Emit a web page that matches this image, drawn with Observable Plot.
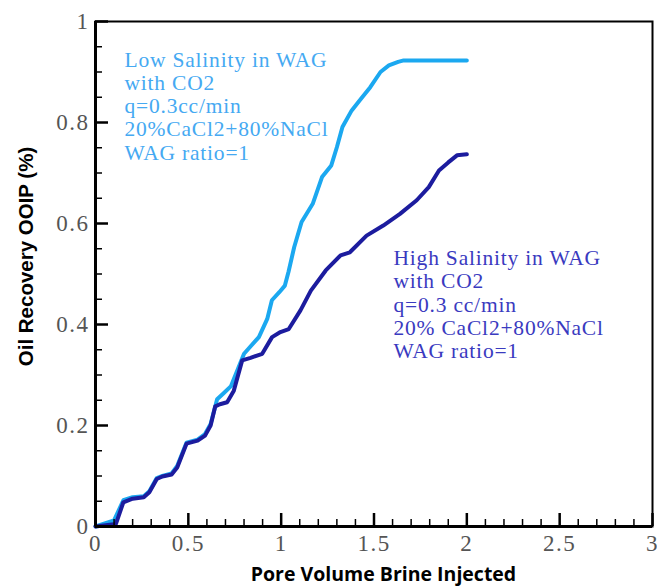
<!DOCTYPE html>
<html><head><meta charset="utf-8">
<script src="https://cdn.jsdelivr.net/npm/d3@7"></script>
<script src="https://cdn.jsdelivr.net/npm/@observablehq/plot@0.6"></script>
<style>
body{margin:0;background:#fff}
svg{display:block}
g[aria-label="x-axis tick label"] text, g[aria-label="y-axis tick label"] text{letter-spacing:1.5px}
g.anno text{letter-spacing:0.8px}
</style>
</head><body><div id="chart"></div>
<script>
// Low salinity in WAG (light blue)
const lowX = [0, 0.1, 0.15, 0.2, 0.26, 0.29, 0.33, 0.36, 0.41, 0.44, 0.49, 0.55, 0.59, 0.62, 0.655, 0.69, 0.73, 0.8, 0.88, 0.925, 0.95, 0.99, 1.02, 1.04, 1.07, 1.11, 1.17, 1.22, 1.27, 1.3, 1.33, 1.38, 1.43, 1.48, 1.535, 1.58, 1.63, 1.66, 2.0];
const lowY = [0, 0.012, 0.052, 0.058, 0.06, 0.07, 0.096, 0.1, 0.105, 0.12, 0.166, 0.172, 0.183, 0.203, 0.252, 0.264, 0.278, 0.342, 0.375, 0.411, 0.448, 0.464, 0.477, 0.505, 0.553, 0.603, 0.639, 0.692, 0.715, 0.751, 0.791, 0.824, 0.847, 0.870, 0.9, 0.913, 0.92, 0.923, 0.923];
// High salinity in WAG (navy)
const highX = [0, 0.11, 0.15, 0.2, 0.26, 0.29, 0.33, 0.36, 0.41, 0.44, 0.49, 0.55, 0.59, 0.62, 0.645, 0.67, 0.709, 0.745, 0.79, 0.835, 0.898, 0.951, 0.996, 1.041, 1.104, 1.16, 1.24, 1.32, 1.37, 1.46, 1.55, 1.64, 1.73, 1.795, 1.85, 1.9, 1.947, 2.0];
const highY = [0, 0.005, 0.048, 0.055, 0.058, 0.068, 0.094, 0.099, 0.103, 0.117, 0.164, 0.170, 0.180, 0.2, 0.238, 0.242, 0.246, 0.269, 0.329, 0.334, 0.342, 0.375, 0.385, 0.391, 0.428, 0.467, 0.507, 0.537, 0.543, 0.576, 0.596, 0.619, 0.646, 0.672, 0.705, 0.721, 0.735, 0.737];

const xTicks = [0, 0.5, 1, 1.5, 2, 2.5, 3];
const xTickLabels = ["0", "0.5", "1", "1.5", "2", "2.5", "3"];
const xMinorTicks = [0.1, 0.2, 0.3, 0.4, 0.6, 0.7, 0.8, 0.9, 1.1, 1.2, 1.3, 1.4, 1.6, 1.7, 1.8, 1.9, 2.1, 2.2, 2.3, 2.4, 2.6, 2.7, 2.8, 2.9];
const yTicks = [0, 0.2, 0.4, 0.6, 0.8, 1];
const yTickLabels = ["0", "0.2", "0.4", "0.6", "0.8", "1"];
const yMinorTicks = [0.05, 0.1, 0.15, 0.25, 0.3, 0.35, 0.45, 0.5, 0.55, 0.65, 0.7, 0.75, 0.85, 0.9, 0.95];

const xTitle = "Pore Volume Brine Injected";
const yTitle = "Oil Recovery OOIP (%)";
const lowLabel = ["Low Salinity in WAG", "with CO2", "q=0.3cc/min", "20%CaCl2+80%NaCl", "WAG ratio=1"];
const lowLabelAt = [0.156, 0.943];
const highLabel = ["High Salinity in WAG", "with CO2", "q=0.3 cc/min", "20% CaCl2+80%NaCl", "WAG ratio=1"];
const highLabelAt = [1.605, 0.55];

const low = lowX.map((x, i) => ({x, y: lowY[i]}));
const high = highX.map((x, i) => ({x, y: highY[i]}));

const serif = "Liberation Serif";
// plotting frame is 557 x 505 px; ticks point inward
const frameW = 557, frameH = 505;

const chart = Plot.plot({
  width: 657, height: 587,
  marginLeft: 95, marginRight: 5, marginTop: 21, marginBottom: 61,
  x: {domain: [0, 3]},
  y: {domain: [0, 1]},
  marks: [
    Plot.line(low, {x: "x", y: "y", stroke: "#1ba8f0", strokeWidth: 4, strokeLinejoin: "round"}),
    Plot.line(high, {x: "x", y: "y", stroke: "#1c1c9e", strokeWidth: 4, strokeLinejoin: "round"}),
    Plot.tickX(xTicks, {x: d => d, insetTop: frameH - 13, stroke: "#000", strokeWidth: 2.5}),
    Plot.tickX(xMinorTicks, {x: d => d, insetTop: frameH - 7, stroke: "#000", strokeWidth: 1.5}),
    Plot.tickY(yTicks, {y: d => d, insetRight: frameW - 13, stroke: "#000", strokeWidth: 2.5}),
    Plot.tickY(yMinorTicks, {y: d => d, insetRight: frameW - 7, stroke: "#000", strokeWidth: 1.5}),
    Plot.frame({stroke: "#000", strokeWidth: 2}),
    Plot.ruleX([0], {stroke: "#000", strokeWidth: 3}),
    Plot.ruleY([0], {stroke: "#000", strokeWidth: 3}),
    Plot.axisX({ticks: xTicks, tickSize: 0, tickPadding: 8, tickFormat: d => xTickLabels[xTicks.indexOf(d)],
      fill: "#555", fontSize: 23, fontFamily: serif, label: null}),
    Plot.axisY({ticks: yTicks, tickSize: 0, tickPadding: 6, tickFormat: d => yTickLabels[yTicks.indexOf(d)],
      fill: "#555", fontSize: 23, fontFamily: serif, label: null}),
    Plot.text([xTitle], {frameAnchor: "bottom", dx: 9.5, dy: 48, textAnchor: "middle", lineAnchor: "middle", fontSize: 19.5, fontWeight: "bold", fontFamily: "Open Sans", fill: "#000"}),
    Plot.text([yTitle], {frameAnchor: "left", dx: -69, dy: -17.5, rotate: -90, textAnchor: "middle", lineAnchor: "middle", fontSize: 20.5, fontWeight: "bold", fontFamily: "Liberation Sans", fill: "#000"}),
    Plot.text([lowLabel.join("\n")], {x: () => lowLabelAt[0], y: () => lowLabelAt[1], textAnchor: "start", lineAnchor: "top", lineHeight: 1.08, fontSize: 21.5, fontFamily: serif, fill: "#45a9f2", className: "anno"}),
    Plot.text([highLabel.join("\n")], {x: () => highLabelAt[0], y: () => highLabelAt[1], textAnchor: "start", lineAnchor: "top", lineHeight: 1.08, fontSize: 21.5, fontFamily: serif, fill: "#3a3ac0", className: "anno"})
  ]
});
document.getElementById("chart").appendChild(chart);
</script>
</body></html>
